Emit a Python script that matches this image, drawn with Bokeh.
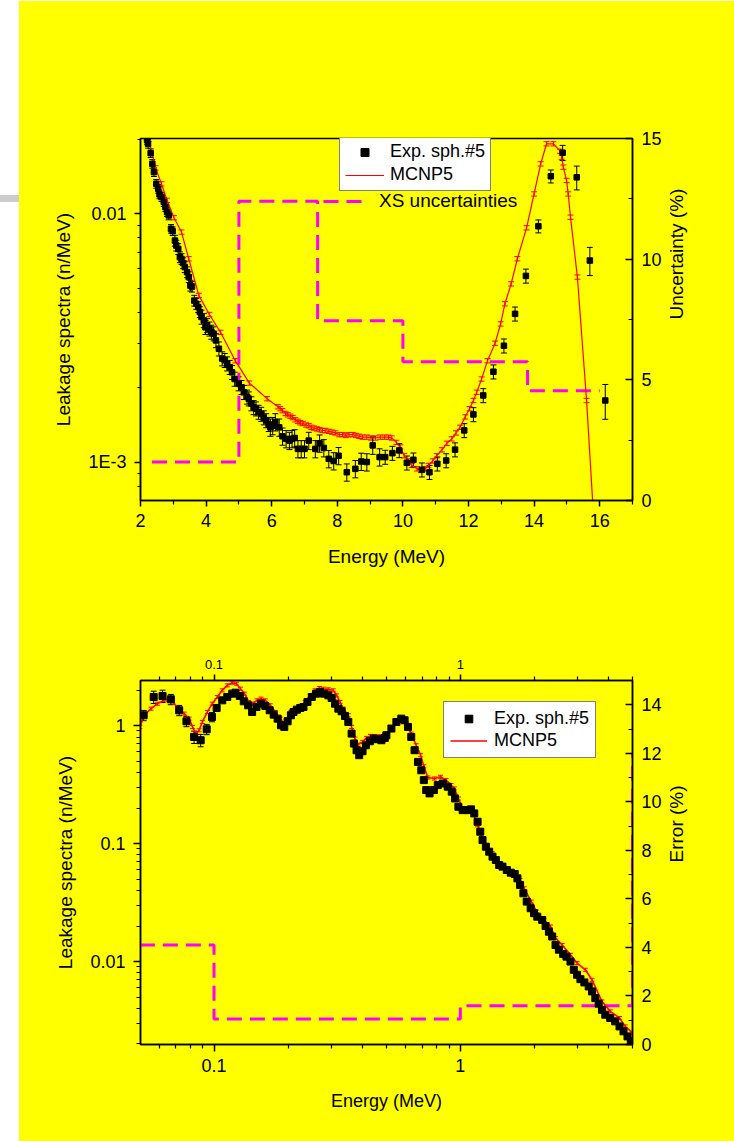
import math
from bokeh.plotting import figure
from bokeh.models import (Range1d, LinearAxis, LogAxis, LinearScale, FixedTicker, Whisker,
                          TeeHead, ColumnDataSource, Legend, LegendItem, Label, Div,
                          CustomJSTickFormatter)
from bokeh.layouts import column, row
from bokeh.embed import file_html
from bokeh.resources import INLINE

# ---------------- data: top panel (fast neutrons, linear energy) ----------------
top_exp_E = [2.20, 2.23, 2.31, 2.36, 2.41, 2.48, 2.54, 2.58, 2.64, 2.71, 2.76, 2.81, 2.86, 2.93, 2.98,
             3.05, 3.09, 3.15, 3.20, 3.25, 3.30, 3.35, 3.42, 3.47, 3.52, 3.57, 3.64, 3.70, 3.76, 3.81,
             3.86, 3.93, 3.98, 4.03, 4.10, 4.16, 4.23, 4.30, 4.39, 4.49, 4.57, 4.64, 4.72, 4.79, 4.87,
             4.99, 5.08, 5.15, 5.25, 5.30, 5.38, 5.45, 5.52, 5.60, 5.68, 5.76, 5.83, 5.91, 5.96, 6.03,
             6.11, 6.23, 6.33, 6.44, 6.54, 6.62, 6.70, 6.80, 6.90, 7.00, 7.13, 7.33, 7.46, 7.59, 7.74,
             7.89, 8.04, 8.29, 8.55, 8.73, 8.90, 9.08, 9.29, 9.46, 9.68, 9.89, 10.12, 10.32, 10.58, 10.81,
             11.05, 11.32, 11.59, 11.87, 12.15, 12.45, 12.76, 13.08, 13.42, 13.75, 14.13, 14.51, 14.87,
             15.30, 15.70, 16.17]
top_exp_Y = [0.01986, 0.01914, 0.01755, 0.01589, 0.01472, 0.01321, 0.01261, 0.01197, 0.01168, 0.01115,
             0.01064, 0.01016, 0.00985, 0.00870, 0.00851, 0.00780, 0.00745, 0.00722, 0.00669, 0.00658,
             0.00633, 0.00610, 0.00582, 0.00556, 0.00514, 0.00509, 0.00447, 0.00434, 0.00421, 0.00402,
             0.00384, 0.00372, 0.00349, 0.00355, 0.00344, 0.00334, 0.00329, 0.00309, 0.00286, 0.00261,
             0.00257, 0.00249, 0.00241, 0.00230, 0.00216, 0.00207, 0.00200, 0.00191, 0.00183, 0.00180,
             0.00172, 0.00166, 0.00164, 0.00159, 0.00156, 0.00151, 0.00147, 0.00142, 0.00138, 0.00140,
             0.00145, 0.00138, 0.00127, 0.00124, 0.00122, 0.00124, 0.00125, 0.00113, 0.00113, 0.00113,
             0.00122, 0.00113, 0.00119, 0.00114, 0.00103, 0.00101, 0.00106, 0.000910, 0.000939, 0.001005,
             0.00100, 0.001167, 0.001047, 0.001047, 0.001086, 0.001114, 0.000993, 0.001021, 0.000931,
             0.000910, 0.000984, 0.001014, 0.001122, 0.001341, 0.001555, 0.001855, 0.002311, 0.00294,
             0.003953, 0.00562, 0.00891, 0.01416, 0.01762, 0.01402, 0.00648, 0.00177]
top_exp_err_pct = [4, 4, 4, 4, 4, 4, 4, 4, 4, 4, 4, 4, 4, 4, 4,
                   5, 5, 5, 5, 5, 5, 5, 5, 5, 5, 5, 5, 5, 5, 5,
                   6.5, 6.5, 6.5, 6.5, 6.5, 6.5, 6.5, 6.5, 6.5, 6.5, 6.5, 6.5, 6.5, 6.5,
                   6.5, 6.5, 6.5, 6.5, 6.5, 6.5, 6.5, 6.5, 6.5, 6.5, 6.5, 6.5, 6.5, 6.5,
                   8, 8, 8, 8, 8, 8, 8, 8, 8, 8, 8, 8, 8, 8, 8, 8, 8, 8, 8, 8, 8, 8, 8, 8, 8,
                   6.5, 6.5, 6.5, 6.5, 6.5, 6.5, 6.5, 6.5, 6.5, 6.5, 6.5, 6.5, 6.5, 6.5, 6.5, 6.5, 6.5,
                   6, 6, 7, 11, 13, 16]

top_mc_E = [2.25, 2.46, 2.64, 2.81, 3.02, 3.25, 3.47, 3.78, 4.10, 4.44, 4.89, 5.32, 5.86, 6.19, 6.26,
            6.33, 6.42, 6.49, 6.57, 6.64, 6.72, 6.80, 6.87, 6.95, 7.05, 7.13, 7.21, 7.29, 7.38, 7.46,
            7.55, 7.63, 7.74, 7.84, 7.94, 8.06, 8.16, 8.26, 8.36, 8.47, 8.57, 8.67, 8.77, 8.90, 9.03,
            9.16, 9.31, 9.44, 9.56, 9.66, 9.80, 9.92, 10.04, 10.17, 10.27, 10.43, 10.55, 10.68, 10.78,
            10.91, 11.03, 11.19, 11.34, 11.49, 11.62, 11.74, 11.90, 12.03, 12.15, 12.25, 12.40, 12.58,
            12.81, 12.98, 13.11, 13.30, 13.49, 13.77, 14.00, 14.20, 14.38, 14.59, 14.79, 14.84, 14.89,
            14.99, 15.04, 15.11, 15.32, 15.60, 15.85]
top_mc_Y = [0.0200, 0.01531, 0.01320, 0.01133, 0.00964, 0.00844, 0.00659, 0.00469, 0.00393, 0.00333,
            0.00256, 0.00208, 0.00180, 0.00167, 0.00164, 0.00161, 0.00157, 0.00155, 0.00153, 0.00151,
            0.00148, 0.00146, 0.00144, 0.00143, 0.00141, 0.00140, 0.00138, 0.00137, 0.00136, 0.00135,
            0.00134, 0.00134, 0.00133, 0.00132, 0.00131, 0.00129, 0.00129, 0.00128, 0.00129, 0.00129,
            0.00128, 0.00127, 0.00126, 0.00126, 0.00125, 0.00125, 0.00126, 0.00126, 0.00126, 0.00125,
            0.00120, 0.00115, 0.00106, 0.00101, 0.000969, 0.000939, 0.000925, 0.000939, 0.000969,
            0.00101, 0.00106, 0.00112, 0.00119, 0.00124, 0.00131, 0.00138, 0.00152, 0.00164, 0.00177,
            0.00191, 0.00216, 0.00256, 0.00301, 0.00360, 0.00434, 0.00522, 0.00659, 0.00878, 0.01202,
            0.01589, 0.01914, 0.01914, 0.01787, 0.01690, 0.01541, 0.01362, 0.01202, 0.00969, 0.00556,
            0.00177, 0.00050]
top_mc_err_pct = 2.0

# XS uncertainty step (right axis, %)
top_unc_E = [2.35, 5.0, 7.4, 10.0, 13.8, 16.0]
top_unc_pct = [1.6, 12.4, 7.45, 5.75, 4.55, 4.55]

# ---------------- data: bottom panel (log energy) ----------------
bot_exp_E = [0.0518, 0.0569, 0.0618, 0.0668, 0.0722, 0.0773, 0.0830, 0.0883, 0.0934, 0.0981,
             0.1025, 0.1080, 0.1132, 0.1186, 0.1223, 0.1273, 0.1321, 0.1376, 0.1428, 0.1487,
             0.1552, 0.1616, 0.1683, 0.1747, 0.1813, 0.1870, 0.1929, 0.1990, 0.2052, 0.2103,
             0.2170, 0.2239, 0.2308, 0.2396, 0.2495, 0.2597, 0.2695, 0.2797, 0.2912, 0.3004,
             0.3099, 0.3197, 0.3297, 0.3402, 0.3509, 0.3619, 0.3698, 0.3791, 0.3886, 0.4009,
             0.4135, 0.4292, 0.4455, 0.4595, 0.4783, 0.4935, 0.501, 0.525, 0.550, 0.576,
             0.594, 0.613, 0.632, 0.652, 0.673, 0.694, 0.711, 0.727, 0.750, 0.781,
             0.810, 0.849, 0.889, 0.923, 0.952, 0.982, 1.022, 1.064, 1.105, 1.139,
             1.175, 1.205, 1.231, 1.270, 1.310, 1.351, 1.394, 1.438, 1.483, 1.544,
             1.602, 1.663, 1.705, 1.748, 1.803, 1.860, 1.930, 1.991, 2.053, 2.150,
             2.219, 2.289, 2.360, 2.435, 2.512, 2.615, 2.697, 2.800, 2.888, 2.979,
             3.073, 3.189, 3.320, 3.424, 3.532, 3.644, 3.758, 3.877, 4.061, 4.254,
             4.429, 4.597, 4.771, 4.921]
bot_exp_Y = [1.222, 1.747, 1.781, 1.669, 1.347, 1.087, 0.801, 0.751, 0.930, 1.183,
             1.410, 1.637, 1.747, 1.864, 1.900, 1.781, 1.605, 1.485, 1.304, 1.437,
             1.534, 1.466, 1.347, 1.238, 1.145, 1.006, 0.974, 1.087, 1.222, 1.304,
             1.365, 1.410, 1.437, 1.585, 1.747, 1.864, 1.925, 1.864, 1.804, 1.713,
             1.534, 1.391, 1.321, 1.206, 1.073, 0.855, 0.704, 0.618, 0.561, 0.606,
             0.681, 0.736, 0.776, 0.766, 0.751, 0.786, 0.828, 0.943, 1.073, 1.145,
             1.109, 0.974, 0.801, 0.618, 0.492, 0.418, 0.345, 0.284, 0.266, 0.284,
             0.313, 0.323, 0.303, 0.275, 0.241, 0.205, 0.192, 0.192, 0.195, 0.180,
             0.153, 0.126, 0.107, 0.0940, 0.0853, 0.0774, 0.0725, 0.0658, 0.0637, 0.0597,
             0.0566, 0.0552, 0.0507, 0.0446, 0.0379, 0.0322, 0.0283, 0.0257, 0.0240, 0.0225,
             0.0200, 0.0179, 0.0163, 0.0138, 0.0126, 0.0116, 0.0110, 0.0100, 0.00851, 0.00772,
             0.00709, 0.00665, 0.00615, 0.00558, 0.00490, 0.00439, 0.00390, 0.00354, 0.00332, 0.00311,
             0.00282, 0.00256, 0.00232, 0.00211]
# visible error bars of the first (lowest-energy) points; the others hide under the markers
bot_exp_err_pct = [10, 12, 12, 10, 10, 10, 12, 12, 10, 9, 6]

bot_mc_E = [0.0500, 0.0521, 0.0555, 0.0590, 0.0628, 0.0658, 0.0679, 0.0711, 0.0756, 0.0792,
            0.0818, 0.0843, 0.0870, 0.0897, 0.0940, 0.0984, 0.1031, 0.1080, 0.1132, 0.1186,
            0.1234, 0.1281, 0.1330, 0.1384, 0.1428, 0.1496, 0.1552, 0.1616, 0.1693, 0.1773,
            0.1858, 0.1917, 0.1977, 0.2052, 0.2136, 0.2239, 0.2345, 0.2457, 0.2573, 0.2678,
            0.2780, 0.2912, 0.3051, 0.3148, 0.3247, 0.3349, 0.3509, 0.3619, 0.3733, 0.3849,
            0.4009, 0.4160, 0.4318, 0.4496, 0.4710, 0.4935, 0.501, 0.525, 0.550, 0.585,
            0.604, 0.632, 0.662, 0.690, 0.711, 0.738, 0.785, 0.831, 0.875, 0.917,
            0.946, 0.982, 1.022, 1.077, 1.122, 1.175, 1.231, 1.282, 1.351, 1.438,
            1.530, 1.627, 1.748, 1.814, 1.942, 2.040, 2.184, 2.324, 2.435, 2.591,
            2.800, 2.979, 3.218, 3.424, 3.758, 4.061, 4.429, 4.669, 4.996]
bot_mc_Y = [0.974, 1.222, 1.391, 1.534, 1.637, 1.669, 1.605, 1.410, 1.262, 1.145,
            0.974, 0.855, 0.912, 1.073, 1.304, 1.534, 1.747, 1.989, 2.192, 2.309,
            2.265, 2.054, 1.864, 1.585, 1.534, 1.637, 1.691, 1.637, 1.485, 1.304,
            1.145, 1.039, 1.130, 1.304, 1.391, 1.466, 1.585, 1.804, 1.989, 2.081,
            2.054, 2.028, 1.989, 1.804, 1.585, 1.391, 1.222, 0.974, 0.776, 0.690,
            0.727, 0.786, 0.817, 0.817, 0.812, 0.839, 0.855, 0.943, 1.039, 1.094,
            1.039, 0.855, 0.681, 0.561, 0.452, 0.363, 0.356, 0.368, 0.345, 0.313,
            0.293, 0.241, 0.198, 0.198, 0.186, 0.143, 0.111, 0.0971, 0.0826, 0.0679,
            0.0617, 0.0559, 0.0491, 0.0418, 0.0322, 0.0265, 0.0225, 0.0198, 0.0158, 0.0138,
            0.0114, 0.00969, 0.00851, 0.00700, 0.00459, 0.00378, 0.00332, 0.00282, 0.00248]
bot_mc_err_pct = 3.0

# error step (right axis, %)
bot_err_E = [0.05, 0.1, 1.0, 5.0]
bot_err_pct = [4.1, 1.05, 1.6, 12.0]

# ---------------- ticks / labels ----------------
top_x_ticks = [2, 4, 6, 8, 10, 12, 14, 16]
top_x_minor = [3, 5, 7, 9, 11, 13, 15, 17]
top_y_ticks = [0.001, 0.01]
top_y_labels = ["1E-3", "0.01"]
top_y_minor = [0.0008, 0.0009, 0.002, 0.003, 0.004, 0.005, 0.006, 0.007, 0.008, 0.009, 0.02]
top_r_ticks = [0, 5, 10, 15]
top_r_minor = [2.5, 7.5, 12.5]

bot_x_ticks = [0.1, 1]
bot_x_labels = ["0.1", "1"]
bot_x_minor = [0.05, 0.06, 0.07, 0.08, 0.09, 0.2, 0.3, 0.4, 0.5, 0.6, 0.7, 0.8, 0.9, 2, 3, 4, 5]
bot_y_ticks = [0.01, 0.1, 1]
bot_y_labels = ["0.01", "0.1", "1"]
bot_y_minor = [0.002, 0.003, 0.004, 0.005, 0.006, 0.007, 0.008, 0.009,
               0.02, 0.03, 0.04, 0.05, 0.06, 0.07, 0.08, 0.09,
               0.2, 0.3, 0.4, 0.5, 0.6, 0.7, 0.8, 0.9, 2]
bot_r_ticks = [0, 2, 4, 6, 8, 10, 12, 14]
bot_r_minor = [1, 3, 5, 7, 9, 11, 13, 15]

FONT = "Liberation Sans"
YEL = "#ffff00"
MAG = "#ff00ff"
RED = "#ff0000"


def fmt(tick_vals, tick_labels):
    return CustomJSTickFormatter(args=dict(tvals=tick_vals, tlabels=tick_labels), code="""
        for (let i = 0; i < tvals.length; i++) {
            if (Math.abs(tvals[i] - tick) <= 1e-6 * Math.abs(tvals[i])) return tlabels[i];
        }
        return "";
    """)


def style_axis(ax, size="18px", t_in=0, t_out=6, m_in=0, m_out=3, standoff=7, lab_standoff=12):
    ax.axis_line_color = "black"
    ax.axis_line_width = 1.5
    ax.major_tick_line_color = "black"
    ax.major_tick_line_width = 1.5
    ax.minor_tick_line_color = "black"
    ax.minor_tick_line_width = 1.2
    ax.major_tick_in = t_in
    ax.major_tick_out = t_out
    ax.minor_tick_in = m_in
    ax.minor_tick_out = m_out
    ax.major_label_text_font = FONT
    ax.major_label_text_font_size = size
    ax.major_label_text_color = "black"
    ax.major_label_standoff = standoff
    ax.axis_label_text_font = FONT
    ax.axis_label_text_font_size = "19px"
    ax.axis_label_text_font_style = "normal"
    ax.axis_label_text_color = "black"
    ax.axis_label_standoff = lab_standoff


def whiskers(p, xs, ys, pct, color, head, **kw):
    src = ColumnDataSource(dict(
        x=xs, up=[y * (1 + e / 100.0) for y, e in zip(ys, pct)],
        lo=[y * (1 - e / 100.0) for y, e in zip(ys, pct)]))
    w = Whisker(source=src, base="x", upper="up", lower="lo", dimension="height",
                line_color=color, line_width=1,
                upper_head=TeeHead(size=head, line_color=color, line_width=1),
                lower_head=TeeHead(size=head, line_color=color, line_width=1), **kw)
    p.add_layout(w)


# ======================= top figure =======================
p1 = figure(width=715, height=610, y_axis_type="log",
            x_range=Range1d(2, 17), y_range=Range1d(7.0e-4, 0.0201),
            output_backend="svg", toolbar_location=None,
            min_border_left=121, min_border_right=101, min_border_top=137, min_border_bottom=111,
            background_fill_color=YEL, border_fill_color=YEL,
            outline_line_color="black", outline_line_width=1.5)
p1.grid.visible = False
p1.extra_y_ranges = {"unc": Range1d(0, 15)}
p1.extra_y_scales = {"unc": LinearScale()}

xa = p1.xaxis[0]
xa.ticker = FixedTicker(ticks=top_x_ticks, minor_ticks=top_x_minor)
xa.axis_label = "Energy (MeV)"
style_axis(xa, t_out=6, m_out=4, standoff=7, lab_standoff=16)

ya = p1.yaxis[0]
ya.ticker = FixedTicker(ticks=top_y_ticks, minor_ticks=top_y_minor)
ya.formatter = fmt(top_y_ticks, top_y_labels)
ya.axis_label = "Leakage spectra (n/MeV)"
style_axis(ya, t_out=6, m_out=3, standoff=8, lab_standoff=11)

ra = LinearAxis(y_range_name="unc", ticker=FixedTicker(ticks=top_r_ticks, minor_ticks=top_r_minor),
                axis_label="Uncertainty (%)")
style_axis(ra, t_in=7, t_out=0, m_in=4, m_out=0, standoff=9, lab_standoff=12)
ra.axis_label_orientation = math.pi / 2
p1.add_layout(ra, "right")

r_step1 = p1.step(top_unc_E, top_unc_pct, mode="after", y_range_name="unc",
                  line_color=MAG, line_width=3, line_dash="15 8")
r_mc1 = p1.line(top_mc_E, top_mc_Y, line_color=RED, line_width=1.2)
whiskers(p1, top_mc_E, top_mc_Y, [top_mc_err_pct] * len(top_mc_E), RED, 6)
whiskers(p1, top_exp_E, top_exp_Y, top_exp_err_pct, "black", 6)
r_exp1 = p1.scatter(top_exp_E, top_exp_Y, marker="square", size=5.5,
                    fill_color="black", line_color="black")

leg1 = Legend(items=[LegendItem(label="Exp. sph.#5", renderers=[r_exp1]),
                     LegendItem(label="MCNP5", renderers=[r_mc1])],
              location=(199, 309), padding=5, spacing=2, label_height=20, glyph_height=20,
              glyph_width=39, label_standoff=6, margin=0,
              label_text_font=FONT, label_text_font_size="18px", label_text_color="black",
              background_fill_color="white", background_fill_alpha=1.0,
              border_line_color="black", border_line_width=1)
p1.add_layout(leg1)
leg1b = Legend(items=[LegendItem(label="XS uncertainties", renderers=[r_step1])],
               location=(183, 288), padding=0, label_height=20, glyph_height=20,
               glyph_width=40, label_standoff=16, margin=0,
               label_text_font=FONT, label_text_font_size="19px", label_text_color="black",
               background_fill_alpha=0, border_line_alpha=0)
p1.add_layout(leg1b)

p1.add_layout(Label(x=-15, y=444, x_units="screen", y_units="screen", text="IPPE-Fe sphere #5",
                    text_font=FONT, text_font_size="20px", text_font_style="bold",
                    text_baseline="alphabetic", text_color="black"))

# ======================= bottom figure =======================
p2 = figure(width=715, height=530, x_axis_type="log", y_axis_type="log",
            x_range=Range1d(0.0503, 5.0), y_range=Range1d(0.00198, 2.41),
            output_backend="svg", toolbar_location=None,
            min_border_left=119, min_border_right=102, min_border_top=69, min_border_bottom=97,
            background_fill_color=YEL, border_fill_color=YEL,
            outline_line_color="black", outline_line_width=1.5)
p2.grid.visible = False
p2.extra_y_ranges = {"err": Range1d(0, 15)}
p2.extra_y_scales = {"err": LinearScale()}

xb = p2.xaxis[0]
xb.ticker = FixedTicker(ticks=bot_x_ticks, minor_ticks=bot_x_minor)
xb.formatter = fmt(bot_x_ticks, bot_x_labels)
xb.axis_label = "Energy (MeV)"
style_axis(xb, t_out=7, m_out=4, standoff=7, lab_standoff=16)
xb.axis_label_text_font_size = "18px"

xt = LogAxis(ticker=FixedTicker(ticks=bot_x_ticks, minor_ticks=bot_x_minor),
             formatter=fmt(bot_x_ticks, bot_x_labels))
style_axis(xt, size="13px", t_out=6, m_out=4, standoff=6)
p2.add_layout(xt, "above")

yb = p2.yaxis[0]
yb.ticker = FixedTicker(ticks=bot_y_ticks, minor_ticks=bot_y_minor)
yb.formatter = fmt(bot_y_ticks, bot_y_labels)
yb.axis_label = "Leakage spectra (n/MeV)"
style_axis(yb, t_out=7, m_out=4, standoff=8, lab_standoff=11)

rb = LinearAxis(y_range_name="err", ticker=FixedTicker(ticks=bot_r_ticks, minor_ticks=bot_r_minor),
                axis_label="Error (%)")
style_axis(rb, t_in=7, t_out=0, m_in=4, m_out=0, standoff=9, lab_standoff=12)
rb.axis_label_orientation = math.pi / 2
p2.add_layout(rb, "right")

p2.step(bot_err_E, bot_err_pct, mode="after", y_range_name="err",
        line_color=MAG, line_width=3, line_dash="15 8")
r_mc2 = p2.line(bot_mc_E, bot_mc_Y, line_color=RED, line_width=1.6)
whiskers(p2, bot_mc_E, bot_mc_Y, [bot_mc_err_pct] * len(bot_mc_E), RED, 5)
n_err = len(bot_exp_err_pct)
whiskers(p2, bot_exp_E[:n_err], bot_exp_Y[:n_err], bot_exp_err_pct, "black", 6)
r_exp2 = p2.scatter(bot_exp_E, bot_exp_Y, marker="square", size=7,
                    fill_color="black", line_color="black")

leg2 = Legend(items=[LegendItem(label="Exp. sph.#5", renderers=[r_exp2]),
                     LegendItem(label="MCNP5", renderers=[r_mc2])],
              location=(303, 286), padding=6, spacing=1, label_height=19, glyph_height=19,
              glyph_width=37, label_standoff=7, margin=0,
              label_text_font=FONT, label_text_font_size="18px", label_text_color="black",
              background_fill_color="white", background_fill_alpha=1.0,
              border_line_color="black", border_line_width=1)
p2.add_layout(leg2)

side = Div(text='<div style="height:195px"></div>'
                '<div style="width:19px;height:7px;background:#cccccc"></div>',
           width=19, height=1141, margin=0)
plots = column(p1, p2, margin=(1, 0, 0, 0), spacing=0, styles={"background-color": YEL})
layout = row(side, plots, margin=0, spacing=0)

open("out.html", "w").write(file_html(layout, INLINE))
